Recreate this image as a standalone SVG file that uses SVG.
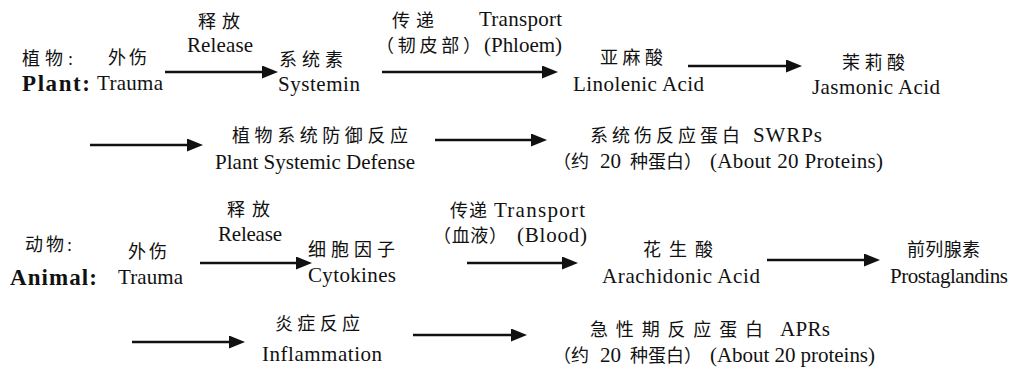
<svg xmlns="http://www.w3.org/2000/svg" width="1023" height="372" viewBox="0 0 1023 372">
<style>
  .en { font-family: "Liberation Serif", "Times New Roman", serif; font-size: 21px; fill: #111; }
  .bd { font-family: "Liberation Serif", "Times New Roman", serif; font-size: 23px; font-weight: bold; fill: #111; }
  .zh { font-family: "Liberation Serif", "Noto Sans CJK SC", serif; font-size: 18px; fill: #111; }
  .arrow { stroke: #111; stroke-width: 2.5; fill: none; marker-end: url(#ah); }
</style>
<defs>
  <marker id="ah" viewBox="0 0 16 13" markerWidth="16" markerHeight="13" refX="10" refY="6.5" markerUnits="userSpaceOnUse" orient="auto">
    <path d="M0,0 L16,6.5 L0,13 z" fill="#111"/>
  </marker>
</defs>
<rect width="1023" height="372" fill="#fff"/>

<g id="connectors">
  <line class="arrow" x1="165" y1="72" x2="272" y2="72"/>
  <line class="arrow" x1="382" y1="72" x2="552" y2="72"/>
  <line class="arrow" x1="688" y1="66" x2="796" y2="66"/>
  <line class="arrow" x1="90" y1="145" x2="197" y2="145"/>
  <line class="arrow" x1="435" y1="140" x2="541" y2="140"/>
  <line class="arrow" x1="200" y1="263" x2="306" y2="263"/>
  <line class="arrow" x1="467" y1="263" x2="572" y2="263"/>
  <line class="arrow" x1="132" y1="342" x2="239" y2="342"/>
  <line class="arrow" x1="413" y1="335" x2="521" y2="335"/>
  <line class="arrow" x1="767" y1="260" x2="874" y2="260"/>
</g>

<g id="plant-label">
  <text class="zh" x="22" y="65" textLength="51" lengthAdjust="spacing">植物:</text>
  <text class="bd" x="22" y="91" textLength="68" lengthAdjust="spacing">Plant:</text>
</g>
<g id="plant-trauma">
  <text class="zh" x="108" y="64" textLength="39" lengthAdjust="spacing">外伤</text>
  <text class="en" x="97" y="90" textLength="66" lengthAdjust="spacing">Trauma</text>
</g>
<g id="plant-release-label">
  <text class="zh" x="198" y="28" textLength="42" lengthAdjust="spacing">释放</text>
  <text class="en" x="187" y="52" textLength="66" lengthAdjust="spacing">Release</text>
</g>
<g id="systemin">
  <text class="zh" x="279" y="66" textLength="64" lengthAdjust="spacing">系统素</text>
  <text class="en" x="278" y="91" textLength="82" lengthAdjust="spacing">Systemin</text>
</g>
<g id="plant-transport-label">
  <text class="zh" x="392" y="27" textLength="42" lengthAdjust="spacing">传递</text>
  <text class="en" x="479" y="26" textLength="83" lengthAdjust="spacing">Transport</text>
  <text class="zh" x="376" y="52" textLength="105" lengthAdjust="spacing">（韧皮部）</text>
  <text class="en" x="484" y="52" textLength="78" lengthAdjust="spacing">(Phloem)</text>
</g>
<g id="linolenic">
  <text class="zh" x="600" y="64" textLength="63" lengthAdjust="spacing">亚麻酸</text>
  <text class="en" x="573" y="91" textLength="131" lengthAdjust="spacing">Linolenic Acid</text>
</g>
<g id="jasmonic">
  <text class="zh" x="842" y="69" textLength="63" lengthAdjust="spacing">茉莉酸</text>
  <text class="en" x="812" y="94" textLength="128" lengthAdjust="spacing">Jasmonic Acid</text>
</g>
<g id="plant-defense">
  <text class="zh" x="232" y="142" textLength="176" lengthAdjust="spacing">植物系统防御反应</text>
  <text class="en" x="215" y="169" textLength="200" lengthAdjust="spacing">Plant Systemic Defense</text>
</g>
<g id="swrps">
  <text class="zh" x="590" y="142" textLength="150" lengthAdjust="spacing">系统伤反应蛋白</text>
  <text class="en" x="753" y="142" textLength="69" lengthAdjust="spacing">SWRPs</text>
  <text class="zh" y="168"><tspan x="553">（约</tspan><tspan class="en" x="600">20</tspan><tspan x="630">种蛋白）</tspan></text>
  <text class="en" x="710" y="168" textLength="173" lengthAdjust="spacing">(About 20 Proteins)</text>
</g>

<g id="animal-label">
  <text class="zh" x="25" y="251" textLength="47" lengthAdjust="spacing">动物:</text>
  <text class="bd" x="10" y="285" textLength="87" lengthAdjust="spacing">Animal:</text>
</g>
<g id="animal-trauma">
  <text class="zh" x="128" y="258" textLength="39" lengthAdjust="spacing">外伤</text>
  <text class="en" x="118" y="284" textLength="65" lengthAdjust="spacing">Trauma</text>
</g>
<g id="animal-release-label">
  <text class="zh" x="227" y="216" textLength="43" lengthAdjust="spacing">释放</text>
  <text class="en" x="218" y="241" textLength="64" lengthAdjust="spacing">Release</text>
</g>
<g id="cytokines">
  <text class="zh" x="308" y="256" textLength="87" lengthAdjust="spacing">细胞因子</text>
  <text class="en" x="308" y="282" textLength="88" lengthAdjust="spacing">Cytokines</text>
</g>
<g id="animal-transport-label">
  <text class="zh" x="450" y="217" textLength="37" lengthAdjust="spacing">传递</text>
  <text class="en" x="494" y="217" textLength="91" lengthAdjust="spacing">Transport</text>
  <text class="zh" x="433" y="242" textLength="74" lengthAdjust="spacing">（血液）</text>
  <text class="en" x="517" y="242" textLength="70" lengthAdjust="spacing">(Blood)</text>
</g>
<g id="arachidonic">
  <text class="zh" x="643" y="256" textLength="70" lengthAdjust="spacing">花生酸</text>
  <text class="en" x="602" y="283" textLength="158" lengthAdjust="spacing">Arachidonic Acid</text>
</g>
<g id="prostaglandins">
  <text class="zh" x="907" y="256" textLength="73" lengthAdjust="spacing">前列腺素</text>
  <text class="en" x="890" y="283" textLength="118" lengthAdjust="spacing">Prostaglandins</text>
</g>
<g id="inflammation">
  <text class="zh" x="275" y="330" textLength="85" lengthAdjust="spacing">炎症反应</text>
  <text class="en" x="262" y="361" textLength="120" lengthAdjust="spacing">Inflammation</text>
</g>
<g id="aprs">
  <text class="zh" x="590" y="336" textLength="173" lengthAdjust="spacing">急性期反应蛋白</text>
  <text class="en" x="780" y="336" textLength="50" lengthAdjust="spacing">APRs</text>
  <text class="zh" y="362"><tspan x="553">（约</tspan><tspan class="en" x="600">20</tspan><tspan x="630">种蛋白）</tspan></text>
  <text class="en" x="710" y="362" textLength="165" lengthAdjust="spacing">(About 20 proteins)</text>
</g>
</svg>
